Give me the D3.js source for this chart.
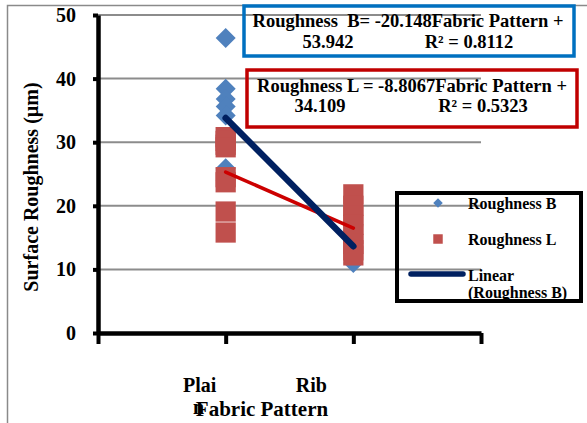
<!DOCTYPE html>
<html>
<head>
<meta charset="utf-8">
<script src="https://cdnjs.cloudflare.com/ajax/libs/d3/7.8.5/d3.min.js"></script>
<style>
  body { margin: 0; background: #fff; }
  text { font-family: "Liberation Serif", "Times New Roman", serif; font-weight: bold; fill: #000; }
</style>
</head>
<body>
<div id="container"></div>
<script>
// data
var categories = ["Plain", "Rib"];
var xLabelLines = [["Plai", "n"], ["Rib"]]; // Excel wrapped "Plain"
var plainB = [46.4, 38.4, 36.8, 35.6, 34.2, 29.8, 25.9, 24.0];
var ribB = [16.8, 14.5, 13.5, 12.5, 11.0];
var plainL = [30.8, 30.2, 29.6, 29.2, 24.5, 23.7, 19.1, 15.8];
var ribL = [21.8, 20.0, 18.5, 17.0, 15.5, 14.0, 13.0, 12.2];
var trendB = [-20.148, 53.942]; // slope, intercept
var trendL = [-8.8067, 34.109];
var yTicks = [0, 10, 20, 30, 40, 50];
var xTicks = [0, 1, 2, 3];

var blue = "#4F81BD", red = "#C0504D", navy = "#002060", lineRed = "#CC0000";

var width = 587, height = 423;
var svg = d3.select("#container").append("svg")
    .attr("width", width)
    .attr("height", height);

var xScale = d3.scaleLinear().domain([0, 3]).range([98, 481]);
var yScale = d3.scaleLinear().domain([0, 50]).range([333, 15]);

// outer chart border (left + top only visible)
svg.append("path")
    .attr("d", "M7.5," + height + "V5.5H" + width)
    .attr("fill", "none")
    .attr("stroke", "#8a8a8a")
    .attr("stroke-width", 1.5);

// gridlines
svg.append("g")
    .selectAll("line")
    .data(yTicks.slice(1))
    .enter()
    .append("line")
    .attr("x1", xScale(0))
    .attr("x2", xScale(3))
    .attr("y1", function (d) { return yScale(d); })
    .attr("y2", function (d) { return yScale(d); })
    .attr("stroke", "#8c8c8c")
    .attr("stroke-width", 2);

// y axis
var yAxis = svg.append("g")
    .attr("transform", "translate(" + xScale(0) + ",0)")
    .call(d3.axisLeft(yScale)
        .tickValues(yTicks)
        .tickSize(5)
        .tickSizeOuter(0)
        .tickPadding(17));
yAxis.select(".domain").attr("stroke", "#000").attr("stroke-width", 4.5);
yAxis.selectAll(".tick line").attr("stroke", "#000").attr("stroke-width", 4);
yAxis.selectAll(".tick text")
    .style("font-family", "Liberation Serif")
    .style("font-weight", "bold")
    .style("font-size", "20px");

// x axis
var xAxis = svg.append("g")
    .attr("transform", "translate(0," + yScale(0) + ")")
    .call(d3.axisBottom(xScale)
        .tickValues(xTicks)
        .tickSize(11)
        .tickSizeOuter(0)
        .tickFormat(""));
xAxis.select(".domain").attr("stroke", "#000").attr("stroke-width", 4.5);
xAxis.selectAll(".tick line").attr("stroke", "#000").attr("stroke-width", 4);

// category labels, shifted like the original
var labelShift = [-26, -42];
xLabelLines.forEach(function (lines, i) {
    var t = svg.append("text")
        .attr("text-anchor", "middle")
        .style("font-size", "20px")
        .attr("y", 392);
    lines.forEach(function (s, j) {
        t.append("tspan")
            .attr("x", xScale(i + 1) + labelShift[i] - j * 1)
            .attr("dy", j == 0 ? 0 : 22)
            .text(s);
    });
});

svg.append("text")
    .attr("x", 262)
    .attr("y", 416)
    .attr("text-anchor", "middle")
    .style("font-size", "21px")
    .text("Fabric Pattern");

svg.append("text")
    .attr("transform", "translate(38,187) rotate(-90)")
    .attr("text-anchor", "middle")
    .style("font-size", "20px")
    .text("Surface Roughness (µm)");

// points
var diamond = d3.symbol().type(d3.symbolSquare).size(200);
var square = d3.symbol().type(d3.symbolSquare).size(410);

function pts(vals, xi) {
    return vals.map(function (v) { return { x: xi, y: v }; });
}
var seriesB = pts(plainB, 1).concat(pts(ribB, 2));
var seriesL = pts(plainL, 1).concat(pts(ribL, 2));

svg.append("g").selectAll("path")
    .data(seriesB)
    .enter()
    .append("path")
    .attr("d", diamond)
    .attr("transform", function (d) {
        return "translate(" + xScale(d.x) + "," + yScale(d.y) + ") rotate(45)";
    })
    .attr("fill", blue);

svg.append("g").selectAll("path")
    .data(seriesL)
    .enter()
    .append("path")
    .attr("d", square)
    .attr("transform", function (d) {
        return "translate(" + xScale(d.x) + "," + yScale(d.y) + ")";
    })
    .attr("fill", red);

// linear trendlines
function trend(coef, color, w) {
    svg.append("line")
        .attr("x1", xScale(1))
        .attr("y1", yScale(coef[0] * 1 + coef[1]))
        .attr("x2", xScale(2))
        .attr("y2", yScale(coef[0] * 2 + coef[1]))
        .attr("stroke", color)
        .attr("stroke-width", w)
        .attr("stroke-linecap", "round");
}
trend(trendL, lineRed, 3.5);
trend(trendB, navy, 6.5);

// equation labels
function eqBox(bx, by, bw, bh, color, line1, cx1, base1, line2a, cxa, line2b, cxb, base2) {
    svg.append("rect")
        .attr("x", bx).attr("y", by)
        .attr("width", bw).attr("height", bh)
        .attr("fill", "none")
        .attr("stroke", color)
        .attr("stroke-width", 3.5);
    svg.append("text")
        .attr("x", cx1).attr("y", base1)
        .attr("text-anchor", "middle")
        .style("font-size", "18.5px")
        .style("white-space", "pre")
        .text(line1);
    svg.append("text")
        .attr("x", cxa).attr("y", base2)
        .attr("text-anchor", "middle")
        .style("font-size", "18.5px")
        .text(line2a);
    svg.append("text")
        .attr("x", cxb).attr("y", base2)
        .attr("text-anchor", "middle")
        .style("font-size", "18.5px")
        .text(line2b);
}
eqBox(244, 6, 330, 50, "#0070C0",
    "Roughness  B= " + trendB[0] + "Fabric Pattern +", 408, 27,
    trendB[1].toFixed(3), 328, "R² = 0.8112", 469, 48);
eqBox(247, 70, 330, 57, "#C00000",
    "Roughness L = " + trendL[0] + "Fabric Pattern +", 412, 92,
    trendL[1].toFixed(3), 320, "R² = 0.5323", 483, 112);

// legend
var legend = svg.append("g");
legend.append("path")
    .attr("d", d3.symbol().type(d3.symbolSquare).size(45))
    .attr("transform", "translate(438,203) rotate(45)")
    .attr("fill", blue);
legend.append("path")
    .attr("d", d3.symbol().type(d3.symbolSquare).size(90))
    .attr("transform", "translate(438,239)")
    .attr("fill", red);
legend.append("line")
    .attr("x1", 411).attr("x2", 463)
    .attr("y1", 274).attr("y2", 274)
    .attr("stroke", navy)
    .attr("stroke-width", 5.5)
    .attr("stroke-linecap", "round");

var legendText = [["Roughness B", 208.5], ["Roughness L", 244.5], ["Linear", 281], ["(Roughness B)", 298]];
legend.selectAll("text")
    .data(legendText)
    .enter()
    .append("text")
    .attr("x", 468)
    .attr("y", function (d) { return d[1]; })
    .style("font-size", "16px")
    .text(function (d) { return d[0]; });

legend.append("rect")
    .attr("x", 397).attr("y", 193)
    .attr("width", 184).attr("height", 108)
    .attr("fill", "none")
    .attr("stroke", "#000")
    .attr("stroke-width", 4);
</script>
</body>
</html>
